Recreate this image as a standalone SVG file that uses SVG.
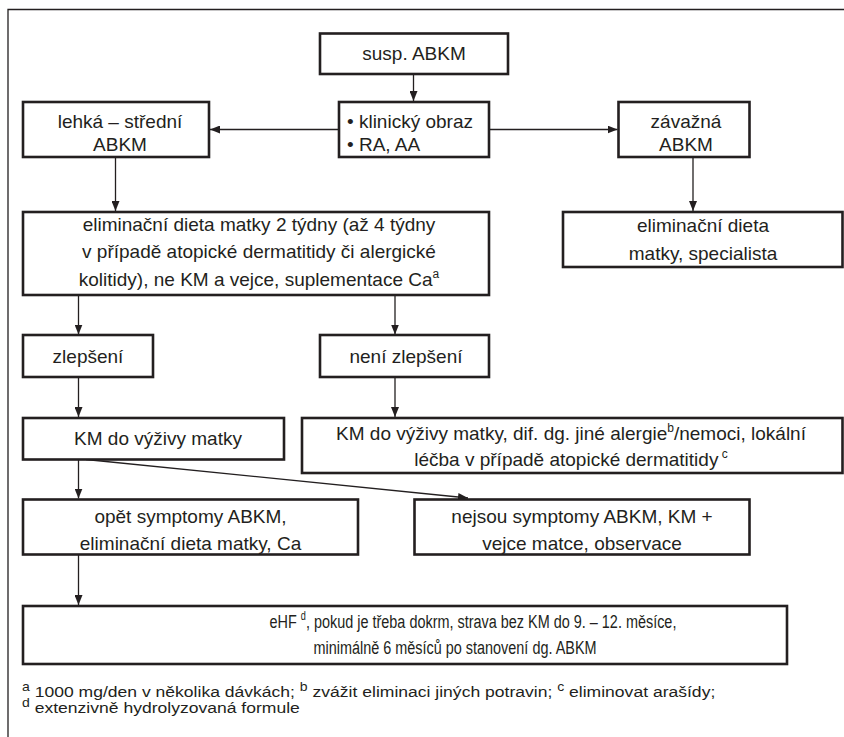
<svg xmlns="http://www.w3.org/2000/svg" width="844" height="737" viewBox="0 0 844 737">
<defs>
<marker id="ah" viewBox="0 0 10 8" refX="10" refY="4" markerWidth="10" markerHeight="8" markerUnits="userSpaceOnUse" orient="auto">
<path d="M0,0 L10,4 L0,8 Z" fill="#231f20"/>
</marker>
<style>
.box{fill:#fff;stroke:#231f20;stroke-width:2.6}
.t{font-family:"Liberation Sans",Arial,sans-serif;font-size:19px;fill:#231f20;text-anchor:middle}
.l{text-anchor:start}
.c{fill:none;stroke:#231f20;stroke-width:1.3}
.fn{font-family:"Liberation Sans",Arial,sans-serif;font-size:15px;fill:#231f20}
.sup{font-size:12px}
</style>
</defs>
<rect width="844" height="737" fill="#fff"/>
<path d="M8,737 V9.5 H844" fill="none" stroke="#231f20" stroke-width="1.3"/>

<g id="connectors">
<path class="c" d="M413.5,74 V101" marker-end="url(#ah)"/>
<path class="c" d="M339,129.5 H210" marker-end="url(#ah)"/>
<path class="c" d="M489,129.5 H617.5" marker-end="url(#ah)"/>
<path class="c" d="M115.5,157 V211" marker-end="url(#ah)"/>
<path class="c" d="M693,157 V211" marker-end="url(#ah)"/>
<path class="c" d="M78.5,295 V334.5" marker-end="url(#ah)"/>
<path class="c" d="M395,295 V334.5" marker-end="url(#ah)"/>
<path class="c" d="M78.5,377 V417" marker-end="url(#ah)"/>
<path class="c" d="M395,377 V417" marker-end="url(#ah)"/>
<path class="c" d="M78.5,459.5 V498.5" marker-end="url(#ah)"/>
<path class="c" d="M86,459.5 L468,498" marker-end="url(#ah)"/>
<path class="c" d="M78.5,554.5 V605" marker-end="url(#ah)"/>
</g>

<g id="n-susp">
<rect class="box" x="320" y="33.5" width="188" height="40.5"/>
<text class="t" x="414" y="60">susp. ABKM</text>
</g>
<g id="n-klin">
<rect class="box" x="339" y="102" width="150" height="55"/>
<text class="t l" x="347" y="128">• klinický obraz</text>
<text class="t l" x="347" y="151">• RA, AA</text>
</g>
<g id="n-lehka">
<rect class="box" x="23" y="102" width="186" height="55"/>
<text class="t" x="120" y="128">lehká – střední</text>
<text class="t" x="120" y="151">ABKM</text>
</g>
<g id="n-zavazna">
<rect class="box" x="618.5" y="102" width="131" height="55"/>
<text class="t" x="686" y="128">závažná</text>
<text class="t" x="686" y="151">ABKM</text>
</g>
<g id="n-elim">
<rect class="box" x="23" y="212" width="466" height="83"/>
<text class="t" x="259" y="231">eliminační dieta matky 2 týdny (až 4 týdny</text>
<text class="t" x="259" y="258">v případě atopické dermatitidy či alergické</text>
<text class="t" x="259" y="286">kolitidy), ne KM a vejce, suplementace Ca<tspan class="sup" dy="-8">a</tspan></text>
</g>
<g id="n-spec">
<rect class="box" x="563" y="212" width="279.5" height="55"/>
<text class="t" x="703" y="232">eliminační dieta</text>
<text class="t" x="703" y="260">matky, specialista</text>
</g>
<g id="n-zlepseni">
<rect class="box" x="23" y="335" width="130" height="42"/>
<text class="t" x="88" y="363">zlepšení</text>
</g>
<g id="n-neni">
<rect class="box" x="320" y="335" width="169" height="42"/>
<text class="t" x="406" y="363">není zlepšení</text>
</g>
<g id="n-km">
<rect class="box" x="23" y="418" width="261" height="41.5"/>
<text class="t" x="158" y="445">KM do výživy matky</text>
</g>
<g id="n-kmdif">
<rect class="box" x="302" y="418" width="540.5" height="55"/>
<text class="t" x="571" y="440">KM do výživy matky, dif. dg. jiné alergie<tspan class="sup" dy="-8">b</tspan><tspan dy="8">/nemoci, lokální</tspan></text>
<text class="t" x="571" y="466">léčba v případě atopické dermatitidy<tspan class="sup" dy="-8"> c</tspan></text>
</g>
<g id="n-opet">
<rect class="box" x="23" y="499.5" width="335" height="55"/>
<text class="t" x="190.5" y="523">opět symptomy ABKM,</text>
<text class="t" x="190.5" y="550">eliminační dieta matky, Ca</text>
</g>
<g id="n-nejsou">
<rect class="box" x="414.5" y="499.5" width="335" height="55"/>
<text class="t" x="582" y="523">nejsou symptomy ABKM, KM +</text>
<text class="t" x="582" y="550">vejce matce, observace</text>
</g>
<g id="n-ehf">
<rect class="box" x="23" y="606" width="764" height="58"/>
<text class="t" transform="translate(473,628) scale(0.76,1)" x="0" y="0">eHF <tspan class="sup" dy="-8">d</tspan><tspan dy="8">, pokud je třeba dokrm, strava bez KM do 9. – 12. měsíce,</tspan></text>
<text class="t" transform="translate(455,654) scale(0.76,1)" x="0" y="0">minimálně 6 měsíců po stanovení dg. ABKM</text>
</g>

<g id="footnotes">
<text class="fn" transform="translate(22,697) scale(1.17,1)" x="0" y="0"><tspan class="sup" dy="-6">a</tspan><tspan dy="6"> 1000 mg/den v několika dávkách; </tspan><tspan class="sup" dy="-6">b</tspan><tspan dy="6"> zvážit eliminaci jiných potravin; </tspan><tspan class="sup" dy="-6">c</tspan><tspan dy="6"> eliminovat arašídy;</tspan></text>
<text class="fn" transform="translate(22,713) scale(1.17,1)" x="0" y="0"><tspan class="sup" dy="-6">d</tspan><tspan dy="6"> extenzivně hydrolyzovaná formule</tspan></text>
</g>
</svg>
